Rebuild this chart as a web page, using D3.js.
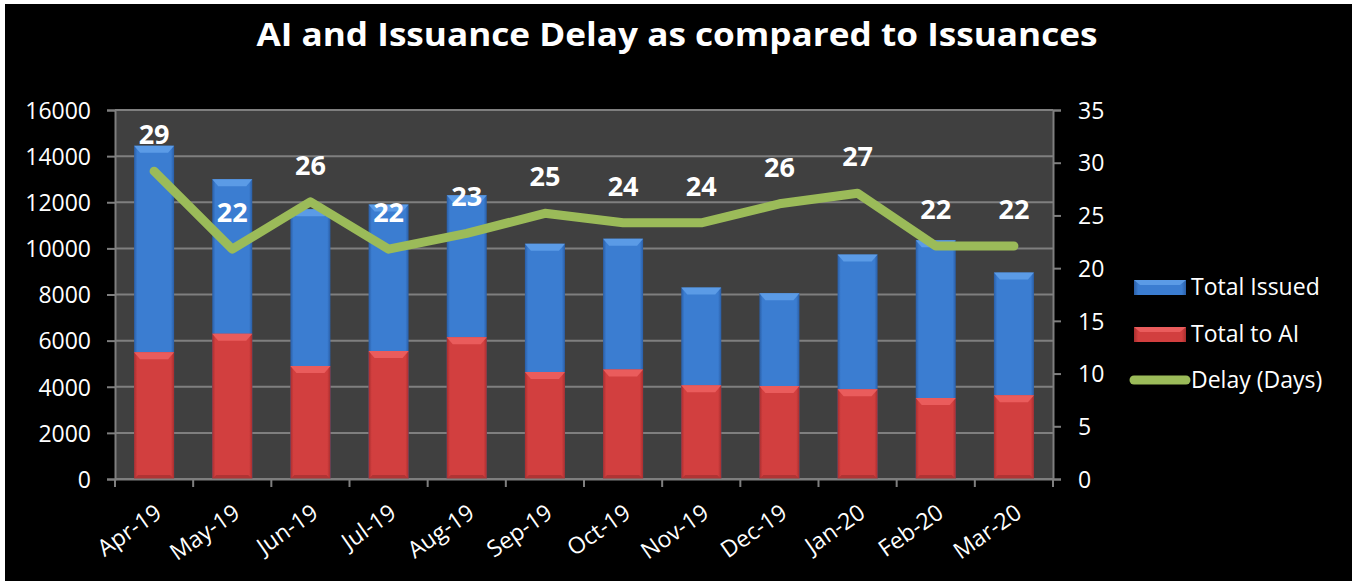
<!DOCTYPE html>
<html>
<head>
<meta charset="utf-8">
<script src="https://cdn.jsdelivr.net/npm/d3@7"></script>
<style>
  html, body { margin: 0; padding: 0; background: #fff; }
  #chart { position: absolute; left: 0; top: 0; }
  text { font-family: "Open Sans", "Noto Sans", sans-serif; fill: #fff; }
</style>
</head>
<body>
<div id="chart"></div>
<script>
// data
const months = ["Apr-19", "May-19", "Jun-19", "Jul-19", "Aug-19", "Sep-19",
                "Oct-19", "Nov-19", "Dec-19", "Jan-20", "Feb-20", "Mar-20"];
const totalIssued = [14450, 13000, 11700, 11900, 12300, 10200, 10420, 8300, 8050, 9730, 10350, 8950];
const totalToAI = [5500, 6300, 4900, 5550, 6150, 4640, 4750, 4060, 4030, 3890, 3510, 3630];
const delayDays = [29.2, 21.8, 26.3, 21.8, 23.3, 25.2, 24.3, 24.3, 26.1, 27.1, 22.1, 22.1];
const leftTicks = [0, 2000, 4000, 6000, 8000, 10000, 12000, 14000, 16000];
const rightTicks = [0, 5, 10, 15, 20, 25, 30, 35];

const W = 1352, H = 581;
const margin = {top: 110, right: 299, bottom: 102, left: 115};
const width = W - margin.left - margin.right;
const height = H - margin.top - margin.bottom;

const root = d3.select("#chart").append("svg")
  .attr("width", W)
  .attr("height", H);

// black picture area, thin white strip at top/left like the screenshot
root.append("rect").attr("x", 5).attr("y", 4).attr("width", W - 5).attr("height", H - 4).attr("fill", "#000");

const defs = root.append("defs");
function barGradient(id, edge, mid) {
  const g = defs.append("linearGradient").attr("id", id)
    .attr("x1", "0%").attr("x2", "100%").attr("y1", "0%").attr("y2", "0%");
  g.append("stop").attr("offset", "0%").attr("stop-color", edge);
  g.append("stop").attr("offset", "8%").attr("stop-color", mid);
  g.append("stop").attr("offset", "92%").attr("stop-color", mid);
  g.append("stop").attr("offset", "100%").attr("stop-color", edge);
}
barGradient("blueBody", "#2a5ea6", "#3b7dd1");
barGradient("redBody", "#a82e2e", "#d23f3f");

const colors = {
  blueTop: "#5b9be6",
  redTop: "#ea5c5c",
  blueBottom: "#2d62ad",
  redBottom: "#b03434",
  line: "#9bbb59",
  grid: "#7f7f7f",
  plot: "#404040"
};

root.append("text")
  .attr("x", 677)
  .attr("y", 46)
  .attr("text-anchor", "middle")
  .attr("textLength", 841)
  .attr("lengthAdjust", "spacingAndGlyphs")
  .style("font-size", "33px")
  .style("font-weight", "bold")
  .text("AI and Issuance Delay as compared to Issuances");

const svg = root.append("g")
  .attr("transform", `translate(${margin.left},${margin.top})`);

svg.append("rect").attr("width", width).attr("height", height).attr("fill", colors.plot);

const x = d3.scaleBand()
  .domain(months)
  .range([0, width])
  .paddingInner(0.488)
  .paddingOuter(0.244);

const yLeft = d3.scaleLinear().domain([0, 16000]).range([height, 0]);
const yRight = d3.scaleLinear().domain([0, 35]).range([height, 0]);

// gridlines
svg.append("g")
  .selectAll("line")
  .data(leftTicks)
  .enter()
  .append("line")
    .attr("x1", 0).attr("x2", width)
    .attr("y1", d => yLeft(d)).attr("y2", d => yLeft(d))
    .attr("stroke", colors.grid)
    .attr("stroke-width", 2);

// left axis
const axL = svg.append("g")
  .call(d3.axisLeft(yLeft).tickValues(leftTicks).tickSize(8).tickPadding(16).tickFormat(d3.format("d")));
axL.select(".domain").attr("stroke", colors.grid).attr("stroke-width", 2);
axL.selectAll(".tick line").attr("stroke", colors.grid).attr("stroke-width", 2);
axL.selectAll("text").attr("fill", "#fff").style("font-size", "23px")
  .style("font-family", "'Open Sans', sans-serif").attr("dy", "0.36em");

// right axis
const axR = svg.append("g")
  .attr("transform", `translate(${width},0)`)
  .call(d3.axisRight(yRight).tickValues(rightTicks).tickSize(8).tickPadding(17));
axR.select(".domain").attr("stroke", colors.grid).attr("stroke-width", 2);
axR.selectAll(".tick line").attr("stroke", colors.grid).attr("stroke-width", 2);
axR.selectAll("text").attr("fill", "#fff").style("font-size", "23px")
  .style("font-family", "'Open Sans', sans-serif").attr("dy", "0.36em");

// bars
function drawBars(values, body, top, bottom) {
  const g = svg.append("g");
  const bw = x.bandwidth();
  const bars = g.selectAll("g")
    .data(values)
    .enter()
    .append("g")
      .attr("transform", (d, i) => `translate(${x(months[i])},0)`);
  bars.append("rect")
    .attr("y", d => yLeft(d))
    .attr("width", bw)
    .attr("height", d => height - yLeft(d))
    .attr("fill", `url(#${body})`);
  bars.append("path")
    .attr("d", d => {
      const t = yLeft(d);
      return `M0,${t}H${bw}L${bw - 6},${t + 7}H6Z`;
    })
    .attr("fill", top);
  bars.append("path")
    .attr("d", `M0,${height}H${bw}L${bw - 4},${height - 4}H4Z`)
    .attr("fill", bottom);
}
drawBars(totalIssued, "blueBody", colors.blueTop, colors.blueBottom);
drawBars(totalToAI, "redBody", colors.redTop, colors.redBottom);

// delay line
const line = d3.line()
  .x((d, i) => x(months[i]) + x.bandwidth() / 2)
  .y(d => yRight(d));
svg.append("path")
  .datum(delayDays)
  .attr("d", line)
  .attr("fill", "none")
  .attr("stroke", colors.line)
  .attr("stroke-width", 9)
  .attr("stroke-linecap", "round")
  .attr("stroke-linejoin", "round");

svg.append("g")
  .selectAll("text")
  .data(delayDays)
  .enter()
  .append("text")
    .attr("x", (d, i) => x(months[i]) + x.bandwidth() / 2)
    .attr("y", d => yRight(d) - 27)
    .attr("text-anchor", "middle")
    .style("font-size", "27px")
    .style("font-weight", "bold")
    .text(d => Math.round(d));

// category axis
const axB = svg.append("g")
  .attr("transform", `translate(0,${height})`)
  .call(d3.axisBottom(x).tickSize(0).tickFormat(""));
axB.select(".domain").attr("stroke", colors.grid).attr("stroke-width", 2);
axB.append("g")
  .selectAll("line")
  .data(d3.range(months.length + 1))
  .enter()
  .append("line")
    .attr("x1", d => d * x.step()).attr("x2", d => d * x.step())
    .attr("y1", 0).attr("y2", 8)
    .attr("stroke", colors.grid)
    .attr("stroke-width", 2);
axB.append("g")
  .selectAll("text")
  .data(months)
  .enter()
  .append("text")
    .attr("transform", d => `translate(${x(d) + x.bandwidth() / 2},${24}) rotate(-35)`)
    .attr("text-anchor", "end")
    .attr("dy", "0.7em")
    .style("font-size", "23px")
    .text(d => d);

// legend
const legend = root.append("g").attr("transform", "translate(1134,0)");
const legendItems = [
  {label: "Total Issued", y: 287, body: "blueBody", top: colors.blueTop},
  {label: "Total to AI", y: 334, body: "redBody", top: colors.redTop}
];
legendItems.forEach(it => {
  legend.append("rect")
    .attr("x", 0).attr("y", it.y - 7).attr("width", 52).attr("height", 15)
    .attr("fill", `url(#${it.body})`);
  legend.append("path")
    .attr("d", `M0,${it.y - 7}H52L46,${it.y - 2}H6Z`)
    .attr("fill", it.top);
  legend.append("text")
    .attr("x", 57).attr("y", it.y).attr("dy", "0.36em")
    .style("font-size", "23px")
    .text(it.label);
});
legend.append("line")
  .attr("x1", 0).attr("x2", 52).attr("y1", 380).attr("y2", 380)
  .attr("stroke", colors.line).attr("stroke-width", 9).attr("stroke-linecap", "round");
legend.append("text")
  .attr("x", 57).attr("y", 380).attr("dy", "0.36em")
  .style("font-size", "23px")
  .text("Delay (Days)");
</script>
</body>
</html>
